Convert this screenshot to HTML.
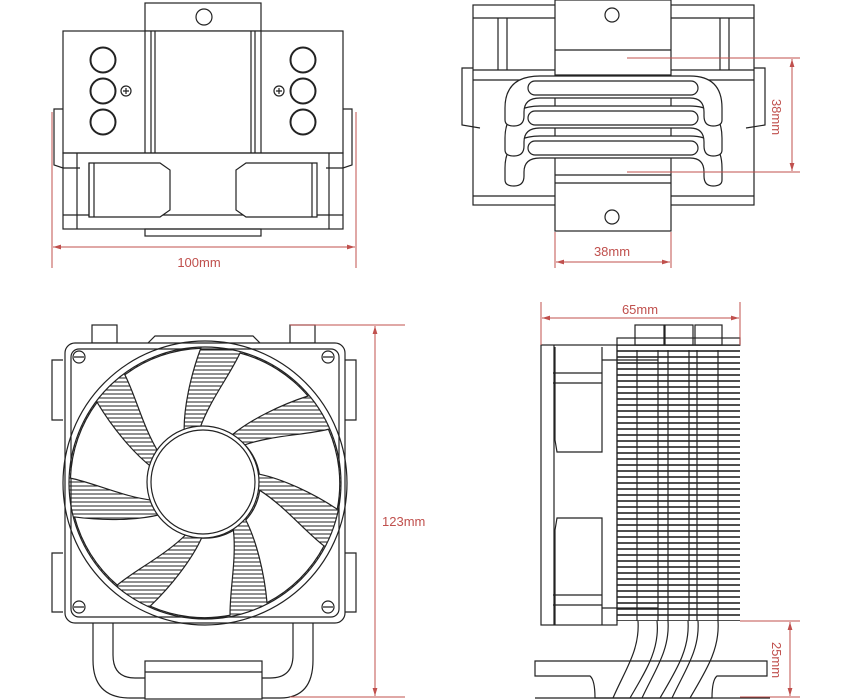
<!DOCTYPE html>
<html><head><meta charset="utf-8"><style>
html,body{margin:0;padding:0;background:#fff}
svg{display:block}
text{font-family:"Liberation Sans",sans-serif;fill:#c0504d;font-size:13px}
</style></head><body>
<svg width="850" height="700" viewBox="0 0 850 700" xmlns="http://www.w3.org/2000/svg">
<defs>
<pattern id="hatch" width="6" height="4" patternUnits="userSpaceOnUse">
<line x1="0" y1="2" x2="6" y2="2" stroke="#222" stroke-width="1"/>
</pattern>
<pattern id="fins" width="10" height="6" patternUnits="userSpaceOnUse">
<line x1="0" y1="3" x2="10" y2="3" stroke="#222" stroke-width="1.6"/>
</pattern>
<marker id="ar" viewBox="0 0 10 10" refX="10" refY="5" markerWidth="8" markerHeight="8" orient="auto-start-reverse">
<path d="M0,2 L10,5 L0,8 z" fill="#c0504d"/>
</marker>
</defs>

<g fill="none" stroke="#222" stroke-width="1.2">
<rect x="145" y="3" width="116" height="28"/>
<circle cx="204" cy="17" r="8"/>
<rect x="63" y="31" width="280" height="122" fill="#fff"/>
<line x1="145" y1="31" x2="145" y2="153"/><line x1="151" y1="31" x2="151" y2="153"/><line x1="155" y1="31" x2="155" y2="153"/>
<line x1="261" y1="31" x2="261" y2="153"/><line x1="255" y1="31" x2="255" y2="153"/><line x1="251" y1="31" x2="251" y2="153"/>
<g stroke-width="2">
<circle cx="103" cy="60" r="12.5"/><circle cx="103" cy="91" r="12.5"/><circle cx="103" cy="122" r="12.5"/>
<circle cx="303" cy="60" r="12.5"/><circle cx="303" cy="91" r="12.5"/><circle cx="303" cy="122" r="12.5"/>
</g>
<circle cx="126" cy="91" r="5"/><path d="M123,91h6M126,88v6"/>
<circle cx="279" cy="91" r="5"/><path d="M276,91h6M279,88v6"/>
<rect x="63" y="153" width="280" height="76"/>
<line x1="77" y1="153" x2="77" y2="229"/><line x1="329" y1="153" x2="329" y2="229"/>
<line x1="63" y1="215" x2="343" y2="215"/>
<path d="M89,163 H160 L170,170 V210 L160,217 H89 Z" fill="#fff"/>
<line x1="89" y1="163" x2="89" y2="217"/><line x1="94" y1="163" x2="94" y2="217"/>
<path d="M317,163 H246 L236,170 V210 L246,217 H317 Z" fill="#fff"/>
<line x1="312" y1="163" x2="312" y2="217"/>
<rect x="145" y="229" width="116" height="7"/>
<path d="M63,109 H54 V165 L63,168 H80"/>
<path d="M343,109 H352 V165 L343,168 H326"/>

<rect x="473" y="5" width="281" height="200"/>
<line x1="473" y1="18" x2="754" y2="18"/>
<line x1="498" y1="18" x2="498" y2="70"/><line x1="507" y1="18" x2="507" y2="70"/>
<line x1="720" y1="18" x2="720" y2="70"/><line x1="729" y1="18" x2="729" y2="70"/>
<line x1="473" y1="70" x2="754" y2="70"/><line x1="473" y1="80" x2="754" y2="80"/>
<path d="M473,68 H462 V125 L480,128"/><path d="M754,68 H765 V125 L746,128"/>
<line x1="473" y1="196" x2="754" y2="196"/>
<rect x="555" y="0" width="116" height="231" fill="#fff"/>
<line x1="555" y1="50" x2="671" y2="50"/><line x1="555" y1="75" x2="671" y2="75"/>
<line x1="555" y1="175" x2="671" y2="175"/><line x1="555" y1="183" x2="671" y2="183"/>
<circle cx="612" cy="15" r="7"/><circle cx="612" cy="217" r="7"/>
<g fill="#fff">
<path d="M505,180 V168 Q505,136 540,136 H690 Q722,136 722,168 V180 Q722,186 713,186 Q704,186 704,176 V172 Q704,158 690,158 H540 Q524,158 524,172 V176 Q524,186 514,186 Q505,186 505,180 Z"/>
<rect x="528" y="141" width="170" height="14" rx="7"/>
<path d="M505,150 V138 Q505,106 540,106 H690 Q722,106 722,138 V150 Q722,156 713,156 Q704,156 704,146 V142 Q704,128 690,128 H540 Q524,128 524,142 V146 Q524,156 514,156 Q505,156 505,150 Z"/>
<rect x="528" y="111" width="170" height="14" rx="7"/>
<path d="M505,120 V108 Q505,76 540,76 H690 Q722,76 722,108 V120 Q722,126 713,126 Q704,126 704,116 V112 Q704,98 690,98 H540 Q524,98 524,112 V116 Q524,126 514,126 Q505,126 505,120 Z"/>
<rect x="528" y="81" width="170" height="14" rx="7"/>
</g>

<rect x="92" y="325" width="25" height="18"/><rect x="290" y="325" width="25" height="18"/>
<path d="M148,343 L155,336 H253 L260,343"/>
<path d="M63,360 H52 V420 H63"/><path d="M63,553 H52 V612 H63"/>
<path d="M345,360 H356 V420 H345"/><path d="M345,553 H356 V612 H345"/>
<path d="M93,623 V660 Q93,698 130,698 H280 Q313,698 313,660 V623"/>
<path d="M113,623 V655 Q113,678 135,678 H145"/><path d="M293,623 V655 Q293,678 270,678 H262"/>
<rect x="145" y="661" width="117" height="38" fill="#fff"/><line x1="145" y1="672" x2="262" y2="672"/>
<rect x="65" y="343" width="280" height="280" rx="10" fill="#fff"/>
<rect x="71" y="349" width="268" height="268" rx="8"/>
<circle cx="205" cy="483" r="142"/>
<circle cx="205" cy="483" r="136" fill="url(#hatch)"/>
<g fill="#fff" stroke-width="1.2">
<path id="bl" d="M200,428 C210,400 230,375 240,353 A135,135 0 0 1 308,396 C280,405 250,420 232,435 A55,55 0 0 0 200,428 Z"/>
<use href="#bl" transform="rotate(51.4 205 483)"/>
<use href="#bl" transform="rotate(102.8 205 483)"/>
<use href="#bl" transform="rotate(154.2 205 483)"/>
<use href="#bl" transform="rotate(205.6 205 483)"/>
<use href="#bl" transform="rotate(257 205 483)"/>
<use href="#bl" transform="rotate(308.4 205 483)"/>
</g>
<circle cx="203" cy="482" r="56" fill="#fff"/>
<circle cx="203" cy="482" r="52"/>
<g>
<circle cx="79" cy="357" r="6"/><circle cx="328" cy="357" r="6"/><circle cx="79" cy="607" r="6"/><circle cx="328" cy="607" r="6"/>
<path d="M74,357h10M323,357h10M74,607h10M323,607h10"/>
</g>

<rect x="635" y="325" width="29" height="20"/><rect x="665" y="325" width="28" height="20"/><rect x="695" y="325" width="27" height="20"/>
<rect x="617" y="338" width="123" height="7"/>
<rect x="541" y="345" width="76" height="280"/>
<line x1="554" y1="345" x2="554" y2="625"/>
<path d="M555,347 V440 L557,452 H602 V347"/>
<line x1="553" y1="373" x2="602" y2="373"/><line x1="553" y1="383" x2="602" y2="383"/>
<path d="M555,625 V530 L557,518 H602 V625"/>
<line x1="553" y1="595" x2="602" y2="595"/><line x1="553" y1="605" x2="602" y2="605"/>
<rect x="617" y="345" width="123" height="276" fill="url(#fins)" stroke="none"/>
<line x1="617" y1="345" x2="617" y2="621"/>
<line x1="637" y1="350" x2="637" y2="621"/><line x1="658" y1="350" x2="658" y2="621"/>
<line x1="668" y1="350" x2="668" y2="621"/><line x1="689" y1="350" x2="689" y2="621"/>
<line x1="697" y1="350" x2="697" y2="621"/><line x1="718" y1="350" x2="718" y2="621"/>
<line x1="602" y1="360" x2="658" y2="360"/><line x1="602" y1="608" x2="658" y2="608"/>
<path d="M535,661 H767 V676 H717 Q712,680 712,698 H595 Q595,680 590,676 H535 Z" fill="#fff"/>
<path d="M638,621 C640,650 625,670 613,698 M657,621 C660,650 645,672 630,698"/>
<path d="M668,621 C670,650 655,670 642,698 M688,621 C690,650 675,672 660,698"/>
<path d="M698,621 C700,650 685,670 672,698 M718,621 C720,650 705,672 690,698"/>
<line x1="535" y1="698" x2="770" y2="698"/>
</g>

<g stroke="#c0504d" stroke-width="1" fill="none">
<line x1="52" y1="112" x2="52" y2="268"/><line x1="356" y1="112" x2="356" y2="268"/>
<line x1="53" y1="247" x2="355" y2="247" marker-start="url(#ar)" marker-end="url(#ar)"/>
<line x1="555" y1="232" x2="555" y2="268"/><line x1="671" y1="232" x2="671" y2="268"/>
<line x1="556" y1="262" x2="670" y2="262" marker-start="url(#ar)" marker-end="url(#ar)"/>
<line x1="627" y1="58" x2="800" y2="58"/><line x1="627" y1="172" x2="800" y2="172"/>
<line x1="792" y1="59" x2="792" y2="171" marker-start="url(#ar)" marker-end="url(#ar)"/>
<line x1="290" y1="325" x2="405" y2="325"/><line x1="290" y1="697" x2="405" y2="697"/>
<line x1="375" y1="326" x2="375" y2="696" marker-start="url(#ar)" marker-end="url(#ar)"/>
<line x1="541" y1="302" x2="541" y2="345"/><line x1="740" y1="302" x2="740" y2="345"/>
<line x1="542" y1="318" x2="739" y2="318" marker-start="url(#ar)" marker-end="url(#ar)"/>
<line x1="740" y1="621" x2="800" y2="621"/><line x1="740" y1="697" x2="800" y2="697"/>
<line x1="790" y1="622" x2="790" y2="696" marker-start="url(#ar)" marker-end="url(#ar)"/>
</g>
<text x="199" y="267" text-anchor="middle">100mm</text>
<text x="612" y="256" text-anchor="middle">38mm</text>
<text x="640" y="314" text-anchor="middle">65mm</text>
<text x="382" y="526">123mm</text>
<text transform="translate(772,117) rotate(90)" text-anchor="middle">38mm</text>
<text transform="translate(772,660) rotate(90)" text-anchor="middle">25mm</text>
</svg>
</body></html>
